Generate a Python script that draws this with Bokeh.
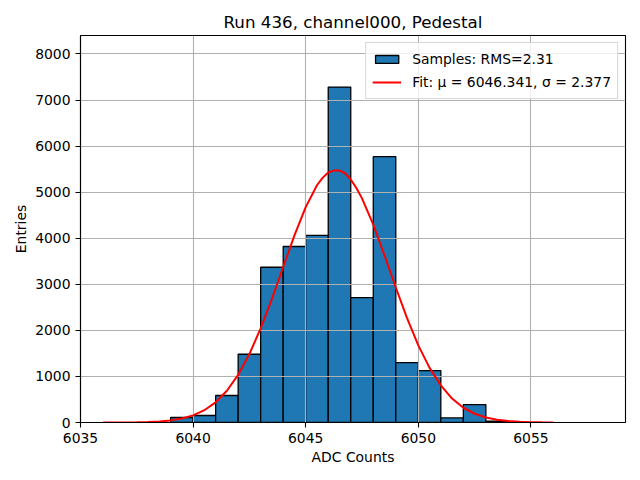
from bokeh.plotting import figure
from bokeh.models import Range1d, FixedTicker, Legend, LegendItem, ColumnDataSource, BasicTickFormatter
from bokeh.embed import file_html
from bokeh.resources import INLINE

# Histogram (bin edges and entries per bin)
bin_edges = [6039, 6040, 6041, 6042, 6043, 6044, 6045, 6046, 6047, 6048,
             6049, 6050, 6051, 6052, 6053, 6054]
counts = [108, 152, 586, 1481, 3370, 3820, 4060, 7280, 2710, 5770,
          1300, 1128, 100, 390, 30]

# Fit curve points
fit_x = [6036.0, 6036.5, 6037.0, 6037.5, 6038.0, 6038.5, 6039.0, 6039.5, 6040.0, 6040.5,
         6041.0, 6041.5, 6042.0, 6042.5, 6043.0, 6043.5, 6044.0, 6044.5, 6045.0, 6045.5,
         6045.75, 6046.0, 6046.25, 6046.5, 6046.75, 6047.0, 6047.25, 6047.5, 6048.0, 6048.5,
         6049.0, 6049.5, 6050.0, 6050.5, 6051.0, 6051.5, 6052.0, 6052.5, 6053.0, 6053.5,
         6054.0, 6054.5, 6055.0, 6055.5, 6056.0]
fit_y = [0, 1, 2, 6, 12, 24, 46, 87, 155, 267,
         438, 690, 1035, 1485, 2045, 2685, 3375, 4060, 4675, 5150,
         5310, 5425, 5468, 5470, 5410, 5275, 5090, 4865, 4295, 3625,
         2930, 2265, 1675, 1185, 805, 520, 320, 190, 108, 58,
         30, 15, 7, 3, 1]

x_ticks = [6035, 6040, 6045, 6050, 6055]
y_ticks = [0, 1000, 2000, 3000, 4000, 5000, 6000, 7000, 8000]

title_text = "Run 436, channel000, Pedestal"
hist_label = "Samples: RMS=2.31"
fit_label = "Fit: μ = 6046.341, σ = 2.377"

FONT = "DejaVu Sans"

p = figure(width=640, height=480, output_backend="svg", toolbar_location=None,
           x_range=Range1d(6035, 6059.2), y_range=Range1d(0, 8400),
           min_border_left=80, min_border_right=15, min_border_top=35, min_border_bottom=58,
           title=title_text)

p.title.text_font = FONT
p.title.text_font_size = "16.7px"
p.title.text_font_style = "normal"
p.title.align = "center"
p.title.standoff = 7
p.title.text_color = "black"

src = ColumnDataSource(dict(left=bin_edges[:-1], right=bin_edges[1:], top=counts,
                            bottom=[0] * len(counts)))
r_bars = p.quad(left="left", right="right", top="top", bottom="bottom", source=src,
                fill_color="#1f77b4", line_color="black", line_width=1.3, level="image")

r_line = p.line(fit_x, fit_y, line_color="red", line_width=2)

for ax in (p.xaxis[0], p.yaxis[0]):
    ax.axis_label_text_font = FONT
    ax.axis_label_text_font_size = "13.9px"
    ax.axis_label_text_font_style = "normal"
    ax.axis_label_text_color = "black"
    ax.major_label_text_font = FONT
    ax.major_label_text_font_size = "13.9px"
    ax.major_label_text_color = "black"
    ax.major_tick_out = 5
    ax.major_tick_in = 0
    ax.minor_tick_out = 0
    ax.minor_tick_in = 0
    ax.major_tick_line_color = "black"
    ax.axis_line_color = "black"
    ax.axis_line_width = 1.1
    ax.major_tick_line_width = 1.1
    ax.major_label_standoff = 5
    ax.axis_label_standoff = 3
    ax.formatter = BasicTickFormatter(use_scientific=False)

p.xaxis[0].ticker = FixedTicker(ticks=x_ticks)
p.yaxis[0].ticker = FixedTicker(ticks=y_ticks)
p.xaxis[0].axis_label = "ADC Counts"
p.yaxis[0].axis_label = "Entries"

for g in (p.xgrid[0], p.ygrid[0]):
    g.grid_line_color = "#b0b0b0"
    g.grid_line_width = 1.1
    g.level = "underlay"
p.xgrid[0].ticker = FixedTicker(ticks=x_ticks)
p.ygrid[0].ticker = FixedTicker(ticks=y_ticks)

p.outline_line_color = "black"
p.outline_line_width = 1.1
p.outline_line_alpha = 1.0
p.background_fill_color = "white"
p.border_fill_color = "white"

legend = Legend(items=[LegendItem(label=hist_label, renderers=[r_bars]),
                       LegendItem(label=fit_label, renderers=[r_line])],
                location="top_right")
legend.label_text_font = FONT
legend.label_text_font_size = "13.9px"
legend.label_text_color = "black"
legend.glyph_width = 29
legend.glyph_height = 10
legend.label_height = 20
legend.spacing = 3
legend.padding = 6
legend.margin = 7
legend.label_standoff = 11
legend.border_line_color = "#cccccc"
legend.border_line_alpha = 0.8
legend.border_line_width = 1
legend.background_fill_color = "white"
legend.background_fill_alpha = 0.8
p.add_layout(legend)

open("out.html", "w").write(file_html(p, INLINE))
